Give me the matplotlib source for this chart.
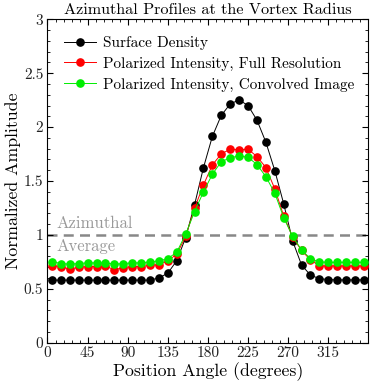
import numpy as np
import matplotlib.pyplot as plt
from matplotlib.ticker import MultipleLocator

plt.rcParams['font.family'] = 'serif'
plt.rcParams['font.serif'] = ['cmr10']
plt.rcParams['mathtext.fontset'] = 'cm'
plt.rcParams['axes.formatter.use_mathtext'] = True

# position angles (degrees)
angle = np.arange(5, 360, 10)

# surface density
dens = [0.58, 0.58, 0.58, 0.58, 0.58, 0.58, 0.58, 0.58, 0.58, 0.58,
        0.58, 0.58, 0.60, 0.645, 0.76, 0.975, 1.28, 1.625, 1.915, 2.11,
        2.215, 2.253, 2.20, 2.065, 1.86, 1.597, 1.288, 0.944, 0.721, 0.626,
        0.594, 0.585, 0.582, 0.582, 0.582, 0.582]

# polarized intensity, full resolution
pi_full = [0.715, 0.706, 0.681, 0.700, 0.706, 0.706, 0.712, 0.675, 0.697, 0.706,
           0.706, 0.718, 0.724, 0.758, 0.821, 0.985, 1.248, 1.464, 1.65, 1.752,
           1.795, 1.79, 1.795, 1.727, 1.625, 1.427, 1.176, 0.98, 0.855, 0.768,
           0.712, 0.712, 0.712, 0.712, 0.712, 0.712]

# polarized intensity, convolved image
pi_conv = [0.752, 0.734, 0.728, 0.734, 0.740, 0.740, 0.740, 0.728, 0.734, 0.740,
           0.740, 0.749, 0.758, 0.780, 0.839, 1.006, 1.216, 1.40, 1.563, 1.68,
           1.715, 1.733, 1.72, 1.653, 1.54, 1.387, 1.16, 0.985, 0.86, 0.78,
           0.749, 0.745, 0.745, 0.745, 0.745, 0.745]

fig = plt.figure(figsize=(3.74, 3.88), dpi=100)
ax = fig.add_axes([0.127, 0.117, 0.858, 0.833])

# azimuthal average line
ax.axhline(1.0, color='#888888', linestyle=(0, (4, 2.5)), linewidth=1.8, zorder=1)
ax.text(10, 1.04, 'Azimuthal', color='#999999', fontsize=12, va='bottom')
ax.text(10, 0.96, 'Average', color='#999999', fontsize=12, va='top')

ms = 5.2
ax.plot(angle, dens, '-o', color='black', lw=0.7, ms=ms, label='Surface Density', zorder=3)
ax.plot(angle, pi_full, '-o', color='#ff0000', lw=0.7, ms=ms,
        label='Polarized Intensity, Full Resolution', zorder=4)
ax.plot(angle, pi_conv, '-o', color='#00ee00', lw=0.7, ms=ms,
        label='Polarized Intensity, Convolved Image', zorder=5)

ax.set_xlim(0, 360)
ax.set_ylim(0, 3)
ax.set_xticks(np.arange(0, 360, 45))
ax.set_xticklabels([str(a) for a in range(0, 360, 45)])
ax.xaxis.set_minor_locator(MultipleLocator(9))
ax.set_yticks([0, 0.5, 1, 1.5, 2, 2.5, 3])
ax.set_yticklabels(['0', '0.5', '1', '1.5', '2', '2.5', '3'])
ax.yaxis.set_minor_locator(MultipleLocator(0.1))
ax.tick_params(which='both', direction='in', top=True, right=True, labelsize=11,
               labelcolor='#222222', pad=3)
ax.tick_params(which='major', length=4, width=0.8)
ax.tick_params(which='minor', length=2, width=0.6)

ax.set_xlabel('Position Angle (degrees)', fontsize=12.8, labelpad=1)
ax.set_ylabel('Normalized Amplitude', fontsize=12.8, labelpad=2)
ax.set_title('Azimuthal Profiles at the Vortex Radius', fontsize=11.7, pad=4)

ax.legend(loc='upper left', frameon=False, fontsize=11, handlelength=2.1,
          handletextpad=0.45, labelspacing=0.42, borderaxespad=0.7)

fig.savefig('out.png', dpi=100)
